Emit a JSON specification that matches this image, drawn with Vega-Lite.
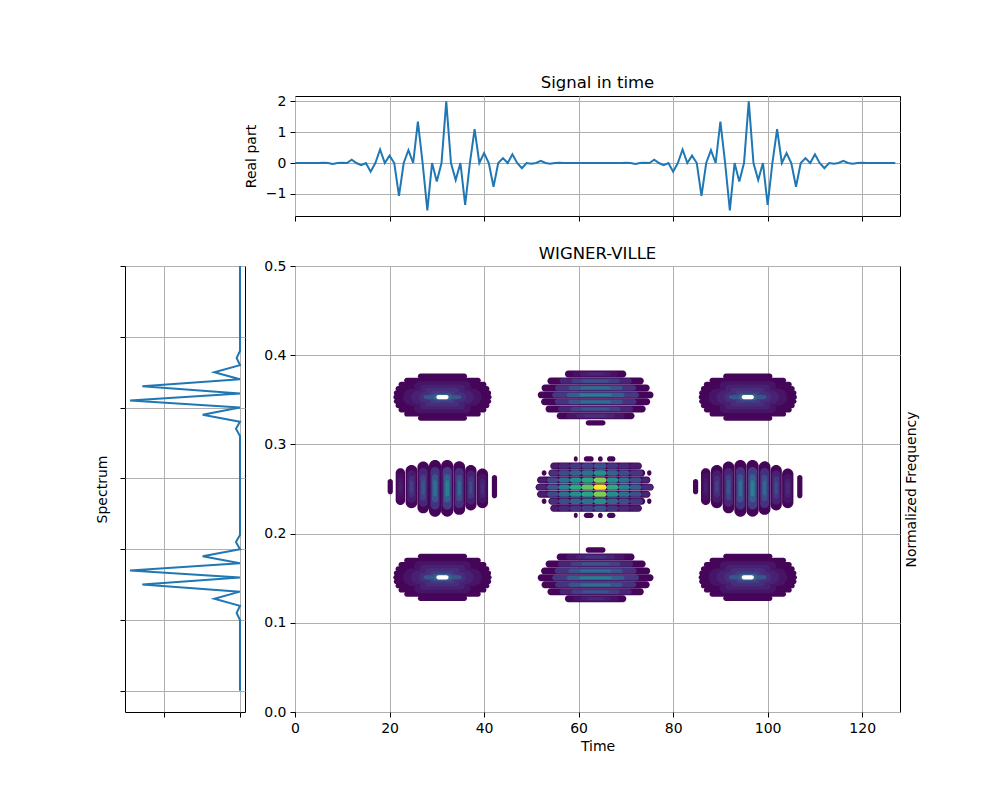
{
"$schema": "https://vega.github.io/schema/vega-lite/v6.json",
"padding": {"left": 95, "top": 74, "right": 5, "bottom": 5},
"background": "white",
"config": {
  "font": "DejaVu Sans",
  "view": {"stroke": "black", "strokeWidth": 1},
  "axis": {"domain": false, "grid": true, "gridColor": "#b0b0b0", "gridWidth": 1, "tickColor": "black", "tickSize": 5, "tickWidth": 1, "labelFontSize": 14, "labelColor": "black", "labelPadding": 4, "labelFlush": false, "labelOverlap": false, "titleFontSize": 14, "titleFontWeight": "normal", "titleColor": "black", "labelFont": "DejaVu Sans", "titleFont": "DejaVu Sans"},
  "title": {"fontSize": 16.5, "fontWeight": "normal", "font": "DejaVu Sans", "color": "black"}
},
"datasets": {
  "signal": [
    {"t":0,"value":0},{"t":1,"value":0},{"t":2,"value":0},{"t":3,"value":0},{"t":4,"value":0},{"t":5,"value":0},{"t":6,"value":0.01},{"t":7,"value":0},
    {"t":8,"value":-0.03},{"t":9,"value":0},{"t":10,"value":0.01},{"t":11,"value":0},{"t":12,"value":0.11},{"t":13,"value":0},{"t":14,"value":-0.07},{"t":15,"value":0},
    {"t":16,"value":-0.28},{"t":17,"value":0},{"t":18,"value":0.44},{"t":19,"value":0},{"t":20,"value":0.24},{"t":21,"value":0},{"t":22,"value":-1.07},{"t":23,"value":0},
    {"t":24,"value":0.42},{"t":25,"value":0},{"t":26,"value":1.34},{"t":27,"value":0},{"t":28,"value":-1.54},{"t":29,"value":0},{"t":30,"value":-0.6},{"t":31,"value":0},
    {"t":32,"value":2.0},{"t":33,"value":0},{"t":34,"value":-0.55},{"t":35,"value":0},{"t":36,"value":-1.36},{"t":37,"value":0},{"t":38,"value":1.1},{"t":39,"value":0},
    {"t":40,"value":0.32},{"t":41,"value":0},{"t":42,"value":-0.77},{"t":43,"value":0},{"t":44,"value":0.16},{"t":45,"value":0},{"t":46,"value":0.28},{"t":47,"value":0},
    {"t":48,"value":-0.17},{"t":49,"value":0},{"t":50,"value":-0.02},{"t":51,"value":0},{"t":52,"value":0.07},{"t":53,"value":0},{"t":54,"value":-0.02},{"t":55,"value":0},
    {"t":56,"value":0.01},{"t":57,"value":0},{"t":58,"value":0},{"t":59,"value":0},{"t":60,"value":0},{"t":61,"value":0},{"t":62,"value":0},{"t":63,"value":0},
    {"t":64,"value":0},{"t":65,"value":0},{"t":66,"value":0},{"t":67,"value":0},{"t":68,"value":0},{"t":69,"value":0},{"t":70,"value":0.01},{"t":71,"value":0},
    {"t":72,"value":-0.03},{"t":73,"value":0},{"t":74,"value":0.01},{"t":75,"value":0},{"t":76,"value":0.11},{"t":77,"value":0},{"t":78,"value":-0.07},{"t":79,"value":0},
    {"t":80,"value":-0.28},{"t":81,"value":0},{"t":82,"value":0.44},{"t":83,"value":0},{"t":84,"value":0.24},{"t":85,"value":0},{"t":86,"value":-1.07},{"t":87,"value":0},
    {"t":88,"value":0.42},{"t":89,"value":0},{"t":90,"value":1.34},{"t":91,"value":0},{"t":92,"value":-1.54},{"t":93,"value":0},{"t":94,"value":-0.6},{"t":95,"value":0},
    {"t":96,"value":2.0},{"t":97,"value":0},{"t":98,"value":-0.55},{"t":99,"value":0},{"t":100,"value":-1.36},{"t":101,"value":0},{"t":102,"value":1.1},{"t":103,"value":0},
    {"t":104,"value":0.32},{"t":105,"value":0},{"t":106,"value":-0.77},{"t":107,"value":0},{"t":108,"value":0.16},{"t":109,"value":0},{"t":110,"value":0.28},{"t":111,"value":0},
    {"t":112,"value":-0.17},{"t":113,"value":0},{"t":114,"value":-0.02},{"t":115,"value":0},{"t":116,"value":0.07},{"t":117,"value":0},{"t":118,"value":-0.02},{"t":119,"value":0},
    {"t":120,"value":0.01},{"t":121,"value":0},{"t":122,"value":0},{"t":123,"value":0},{"t":124,"value":0},{"t":125,"value":0},{"t":126,"value":0},{"t":127,"value":0}
  ],
  "spectrum": [
    {"bin":0,"power":0},{"bin":1,"power":0},{"bin":2,"power":0},{"bin":3,"power":0},{"bin":4,"power":0},{"bin":5,"power":0},{"bin":6,"power":0},{"bin":7,"power":0},
    {"bin":8,"power":0},{"bin":9,"power":0},{"bin":10,"power":0},{"bin":11,"power":0.044},{"bin":12,"power":0},{"bin":13,"power":0.338},{"bin":14,"power":0},{"bin":15,"power":1.285},
    {"bin":16,"power":0},{"bin":17,"power":1.447},{"bin":18,"power":0},{"bin":19,"power":0.491},{"bin":20,"power":0},{"bin":21,"power":0.053},{"bin":22,"power":0},{"bin":23,"power":0},
    {"bin":24,"power":0},{"bin":25,"power":0},{"bin":26,"power":0},{"bin":27,"power":0},{"bin":28,"power":0},{"bin":29,"power":0},{"bin":30,"power":0},{"bin":31,"power":0},
    {"bin":32,"power":0},{"bin":33,"power":0},{"bin":34,"power":0},{"bin":35,"power":0},{"bin":36,"power":0},{"bin":37,"power":0.053},{"bin":38,"power":0},{"bin":39,"power":0.491},
    {"bin":40,"power":0},{"bin":41,"power":1.447},{"bin":42,"power":0},{"bin":43,"power":1.285},{"bin":44,"power":0},{"bin":45,"power":0.338},{"bin":46,"power":0},{"bin":47,"power":0.044},
    {"bin":48,"power":0},{"bin":49,"power":0},{"bin":50,"power":0},{"bin":51,"power":0},{"bin":52,"power":0},{"bin":53,"power":0},{"bin":54,"power":0},{"bin":55,"power":0},
    {"bin":56,"power":0},{"bin":57,"power":0},{"bin":58,"power":0},{"bin":59,"power":0},{"bin":60,"power":0},{"bin":61,"power":0},{"bin":62,"power":0},{"bin":63,"power":0}
  ],
  "cores": [
    {"t0":29.9,"t1":32.5,"f0":0.3506,"f1":0.3554},
    {"t0":94.5,"t1":97.1,"f0":0.3506,"f1":0.3554},
    {"t0":29.9,"t1":32.5,"f0":0.1486,"f1":0.1534},
    {"t0":94.5,"t1":97.1,"f0":0.1486,"f1":0.1534}
  ],
  "wv": [
    {"t0":26.0,"t1":36.4,"f0":0.3735,"f1":0.3795,"v":0.01},
    {"t0":23.1,"t1":39.3,"f0":0.3688,"f1":0.3748,"v":0.01},
    {"t0":21.9,"t1":40.5,"f0":0.3641,"f1":0.3701,"v":0.01},
    {"t0":21.27,"t1":41.13,"f0":0.3594,"f1":0.3654,"v":0.01},
    {"t0":20.9,"t1":41.5,"f0":0.3547,"f1":0.3607,"v":0.01},
    {"t0":20.8,"t1":41.6,"f0":0.3500,"f1":0.3560,"v":0.01},
    {"t0":20.9,"t1":41.5,"f0":0.3453,"f1":0.3513,"v":0.01},
    {"t0":21.27,"t1":41.13,"f0":0.3406,"f1":0.3466,"v":0.01},
    {"t0":21.9,"t1":40.5,"f0":0.3359,"f1":0.3419,"v":0.01},
    {"t0":23.1,"t1":39.3,"f0":0.3312,"f1":0.3372,"v":0.01},
    {"t0":26.0,"t1":36.4,"f0":0.3265,"f1":0.3325,"v":0.01},
    {"t0":90.6,"t1":101.0,"f0":0.3735,"f1":0.3795,"v":0.01},
    {"t0":87.7,"t1":103.9,"f0":0.3688,"f1":0.3748,"v":0.01},
    {"t0":86.5,"t1":105.1,"f0":0.3641,"f1":0.3701,"v":0.01},
    {"t0":85.87,"t1":105.73,"f0":0.3594,"f1":0.3654,"v":0.01},
    {"t0":85.5,"t1":106.1,"f0":0.3547,"f1":0.3607,"v":0.01},
    {"t0":85.4,"t1":106.2,"f0":0.3500,"f1":0.3560,"v":0.01},
    {"t0":85.5,"t1":106.1,"f0":0.3453,"f1":0.3513,"v":0.01},
    {"t0":85.87,"t1":105.73,"f0":0.3406,"f1":0.3466,"v":0.01},
    {"t0":86.5,"t1":105.1,"f0":0.3359,"f1":0.3419,"v":0.01},
    {"t0":87.7,"t1":103.9,"f0":0.3312,"f1":0.3372,"v":0.01},
    {"t0":90.6,"t1":101.0,"f0":0.3265,"f1":0.3325,"v":0.01},
    {"t0":26.0,"t1":36.4,"f0":0.1715,"f1":0.1775,"v":0.01},
    {"t0":23.1,"t1":39.3,"f0":0.1668,"f1":0.1728,"v":0.01},
    {"t0":21.9,"t1":40.5,"f0":0.1621,"f1":0.1681,"v":0.01},
    {"t0":21.27,"t1":41.13,"f0":0.1574,"f1":0.1634,"v":0.01},
    {"t0":20.9,"t1":41.5,"f0":0.1527,"f1":0.1587,"v":0.01},
    {"t0":20.8,"t1":41.6,"f0":0.1480,"f1":0.1540,"v":0.01},
    {"t0":20.9,"t1":41.5,"f0":0.1433,"f1":0.1493,"v":0.01},
    {"t0":21.27,"t1":41.13,"f0":0.1386,"f1":0.1446,"v":0.01},
    {"t0":21.9,"t1":40.5,"f0":0.1339,"f1":0.1399,"v":0.01},
    {"t0":23.1,"t1":39.3,"f0":0.1292,"f1":0.1352,"v":0.01},
    {"t0":26.0,"t1":36.4,"f0":0.1245,"f1":0.1305,"v":0.01},
    {"t0":90.6,"t1":101.0,"f0":0.1715,"f1":0.1775,"v":0.01},
    {"t0":87.7,"t1":103.9,"f0":0.1668,"f1":0.1728,"v":0.01},
    {"t0":86.5,"t1":105.1,"f0":0.1621,"f1":0.1681,"v":0.01},
    {"t0":85.87,"t1":105.73,"f0":0.1574,"f1":0.1634,"v":0.01},
    {"t0":85.5,"t1":106.1,"f0":0.1527,"f1":0.1587,"v":0.01},
    {"t0":85.4,"t1":106.2,"f0":0.1480,"f1":0.1540,"v":0.01},
    {"t0":85.5,"t1":106.1,"f0":0.1433,"f1":0.1493,"v":0.01},
    {"t0":85.87,"t1":105.73,"f0":0.1386,"f1":0.1446,"v":0.01},
    {"t0":86.5,"t1":105.1,"f0":0.1339,"f1":0.1399,"v":0.01},
    {"t0":87.7,"t1":103.9,"f0":0.1292,"f1":0.1352,"v":0.01},
    {"t0":90.6,"t1":101.0,"f0":0.1245,"f1":0.1305,"v":0.01},

    {"t0":22.9,"t1":39.5,"f0":0.3433,"f1":0.3628,"v":0.05},
    {"t0":25.22,"t1":37.18,"f0":0.3598,"f1":0.3709,"v":0.05},
    {"t0":25.22,"t1":37.18,"f0":0.3351,"f1":0.3462,"v":0.05},
    {"t0":24.6,"t1":37.8,"f0":0.3455,"f1":0.3605,"v":0.09},
    {"t0":26.45,"t1":35.95,"f0":0.3583,"f1":0.3668,"v":0.09},
    {"t0":26.45,"t1":35.95,"f0":0.3392,"f1":0.3477,"v":0.09},
    {"t0":26.2,"t1":36.2,"f0":0.3475,"f1":0.3585,"v":0.13},
    {"t0":27.6,"t1":34.8,"f0":0.3569,"f1":0.3631,"v":0.13},
    {"t0":27.6,"t1":34.8,"f0":0.3429,"f1":0.3491,"v":0.13},
    {"t0":27.7,"t1":34.7,"f0":0.3494,"f1":0.3566,"v":0.17},
    {"t0":28.68,"t1":33.72,"f0":0.3555,"f1":0.3596,"v":0.17},
    {"t0":28.68,"t1":33.72,"f0":0.3464,"f1":0.3505,"v":0.17},
    {"t0":28.9,"t1":33.5,"f0":0.3488,"f1":0.3572,"v":0.21},
    {"t0":27.2,"t1":35.2,"f0":0.3508,"f1":0.3552,"v":0.26},
    {"t0":29.3,"t1":33.1,"f0":0.3494,"f1":0.3566,"v":0.32},

    {"t0":87.5,"t1":104.1,"f0":0.3433,"f1":0.3628,"v":0.05},
    {"t0":89.82,"t1":101.78,"f0":0.3598,"f1":0.3709,"v":0.05},
    {"t0":89.82,"t1":101.78,"f0":0.3351,"f1":0.3462,"v":0.05},
    {"t0":89.2,"t1":102.4,"f0":0.3455,"f1":0.3605,"v":0.09},
    {"t0":91.05,"t1":100.55,"f0":0.3583,"f1":0.3668,"v":0.09},
    {"t0":91.05,"t1":100.55,"f0":0.3392,"f1":0.3477,"v":0.09},
    {"t0":90.8,"t1":100.8,"f0":0.3475,"f1":0.3585,"v":0.13},
    {"t0":92.2,"t1":99.4,"f0":0.3569,"f1":0.3631,"v":0.13},
    {"t0":92.2,"t1":99.4,"f0":0.3429,"f1":0.3491,"v":0.13},
    {"t0":92.3,"t1":99.3,"f0":0.3494,"f1":0.3566,"v":0.17},
    {"t0":93.28,"t1":98.32,"f0":0.3555,"f1":0.3596,"v":0.17},
    {"t0":93.28,"t1":98.32,"f0":0.3464,"f1":0.3505,"v":0.17},
    {"t0":93.5,"t1":98.1,"f0":0.3488,"f1":0.3572,"v":0.21},
    {"t0":91.8,"t1":99.8,"f0":0.3508,"f1":0.3552,"v":0.26},
    {"t0":93.9,"t1":97.7,"f0":0.3494,"f1":0.3566,"v":0.32},

    {"t0":22.9,"t1":39.5,"f0":0.1413,"f1":0.1608,"v":0.05},
    {"t0":25.22,"t1":37.18,"f0":0.1578,"f1":0.1689,"v":0.05},
    {"t0":25.22,"t1":37.18,"f0":0.1331,"f1":0.1442,"v":0.05},
    {"t0":24.6,"t1":37.8,"f0":0.1435,"f1":0.1585,"v":0.09},
    {"t0":26.45,"t1":35.95,"f0":0.1563,"f1":0.1648,"v":0.09},
    {"t0":26.45,"t1":35.95,"f0":0.1372,"f1":0.1457,"v":0.09},
    {"t0":26.2,"t1":36.2,"f0":0.1455,"f1":0.1565,"v":0.13},
    {"t0":27.6,"t1":34.8,"f0":0.1549,"f1":0.1611,"v":0.13},
    {"t0":27.6,"t1":34.8,"f0":0.1409,"f1":0.1471,"v":0.13},
    {"t0":27.7,"t1":34.7,"f0":0.1474,"f1":0.1546,"v":0.17},
    {"t0":28.68,"t1":33.72,"f0":0.1535,"f1":0.1576,"v":0.17},
    {"t0":28.68,"t1":33.72,"f0":0.1444,"f1":0.1485,"v":0.17},
    {"t0":28.9,"t1":33.5,"f0":0.1468,"f1":0.1552,"v":0.21},
    {"t0":27.2,"t1":35.2,"f0":0.1488,"f1":0.1532,"v":0.26},
    {"t0":29.3,"t1":33.1,"f0":0.1474,"f1":0.1546,"v":0.32},

    {"t0":87.5,"t1":104.1,"f0":0.1413,"f1":0.1608,"v":0.05},
    {"t0":89.82,"t1":101.78,"f0":0.1578,"f1":0.1689,"v":0.05},
    {"t0":89.82,"t1":101.78,"f0":0.1331,"f1":0.1442,"v":0.05},
    {"t0":89.2,"t1":102.4,"f0":0.1435,"f1":0.1585,"v":0.09},
    {"t0":91.05,"t1":100.55,"f0":0.1563,"f1":0.1648,"v":0.09},
    {"t0":91.05,"t1":100.55,"f0":0.1372,"f1":0.1457,"v":0.09},
    {"t0":90.8,"t1":100.8,"f0":0.1455,"f1":0.1565,"v":0.13},
    {"t0":92.2,"t1":99.4,"f0":0.1549,"f1":0.1611,"v":0.13},
    {"t0":92.2,"t1":99.4,"f0":0.1409,"f1":0.1471,"v":0.13},
    {"t0":92.3,"t1":99.3,"f0":0.1474,"f1":0.1546,"v":0.17},
    {"t0":93.28,"t1":98.32,"f0":0.1535,"f1":0.1576,"v":0.17},
    {"t0":93.28,"t1":98.32,"f0":0.1444,"f1":0.1485,"v":0.17},
    {"t0":93.5,"t1":98.1,"f0":0.1468,"f1":0.1552,"v":0.21},
    {"t0":91.8,"t1":99.8,"f0":0.1488,"f1":0.1532,"v":0.26},
    {"t0":93.9,"t1":97.7,"f0":0.1474,"f1":0.1546,"v":0.32},

    {"t0":19.6,"t1":20.7,"f0":0.2441,"f1":0.2613,"v":0.01},
    {"t0":21.3,"t1":23.3,"f0":0.2321,"f1":0.2733,"v":0.01},
    {"t0":21.55,"t1":23.05,"f0":0.2372,"f1":0.2682,"v":0.03},
    {"t0":21.8,"t1":22.8,"f0":0.2424,"f1":0.2630,"v":0.056},
    {"t0":22.0,"t1":22.6,"f0":0.2469,"f1":0.2585,"v":0.08},
    {"t0":23.4,"t1":25.9,"f0":0.2284,"f1":0.2770,"v":0.01},
    {"t0":23.71,"t1":25.59,"f0":0.2345,"f1":0.2709,"v":0.072},
    {"t0":24.03,"t1":25.28,"f0":0.2405,"f1":0.2649,"v":0.126},
    {"t0":24.28,"t1":25.03,"f0":0.2459,"f1":0.2595,"v":0.18},
    {"t0":25.9,"t1":28.35,"f0":0.2227,"f1":0.2807,"v":0.01},
    {"t0":26.2,"t1":28.05,"f0":0.2299,"f1":0.2735,"v":0.104},
    {"t0":26.51,"t1":27.74,"f0":0.2372,"f1":0.2662,"v":0.182},
    {"t0":26.76,"t1":27.49,"f0":0.2436,"f1":0.2598,"v":0.26},
    {"t0":28.35,"t1":30.9,"f0":0.2190,"f1":0.2826,"v":0.01},
    {"t0":28.67,"t1":30.58,"f0":0.2269,"f1":0.2747,"v":0.144},
    {"t0":28.99,"t1":30.26,"f0":0.2349,"f1":0.2667,"v":0.252},
    {"t0":29.24,"t1":30.01,"f0":0.2419,"f1":0.2597,"v":0.36},
    {"t0":30.9,"t1":33.5,"f0":0.2190,"f1":0.2826,"v":0.01},
    {"t0":31.23,"t1":33.18,"f0":0.2269,"f1":0.2747,"v":0.172},
    {"t0":31.55,"t1":32.85,"f0":0.2349,"f1":0.2667,"v":0.30},
    {"t0":31.81,"t1":32.59,"f0":0.2419,"f1":0.2597,"v":0.43},
    {"t0":33.5,"t1":36.0,"f0":0.2210,"f1":0.2810,"v":0.01},
    {"t0":33.81,"t1":35.69,"f0":0.2285,"f1":0.2735,"v":0.132},
    {"t0":34.13,"t1":35.38,"f0":0.2360,"f1":0.2660,"v":0.231},
    {"t0":34.38,"t1":35.13,"f0":0.2426,"f1":0.2594,"v":0.33},
    {"t0":36.0,"t1":38.4,"f0":0.2260,"f1":0.2770,"v":0.01},
    {"t0":36.3,"t1":38.1,"f0":0.2324,"f1":0.2706,"v":0.088},
    {"t0":36.6,"t1":37.8,"f0":0.2387,"f1":0.2643,"v":0.154},
    {"t0":36.84,"t1":37.56,"f0":0.2444,"f1":0.2586,"v":0.22},
    {"t0":38.45,"t1":40.85,"f0":0.2284,"f1":0.2730,"v":0.01},
    {"t0":38.75,"t1":40.55,"f0":0.2340,"f1":0.2674,"v":0.048},
    {"t0":39.05,"t1":40.25,"f0":0.2395,"f1":0.2619,"v":0.084},
    {"t0":39.29,"t1":40.01,"f0":0.2445,"f1":0.2569,"v":0.12},
    {"t0":41.65,"t1":42.75,"f0":0.2396,"f1":0.2658,"v":0.01},

    {"t0":84.2,"t1":85.3,"f0":0.2441,"f1":0.2613,"v":0.01},
    {"t0":85.9,"t1":87.9,"f0":0.2321,"f1":0.2733,"v":0.01},
    {"t0":86.15,"t1":87.65,"f0":0.2372,"f1":0.2682,"v":0.03},
    {"t0":86.4,"t1":87.4,"f0":0.2424,"f1":0.2630,"v":0.056},
    {"t0":86.6,"t1":87.2,"f0":0.2469,"f1":0.2585,"v":0.08},
    {"t0":88.0,"t1":90.5,"f0":0.2284,"f1":0.2770,"v":0.01},
    {"t0":88.31,"t1":90.19,"f0":0.2345,"f1":0.2709,"v":0.072},
    {"t0":88.63,"t1":89.88,"f0":0.2405,"f1":0.2649,"v":0.126},
    {"t0":88.88,"t1":89.63,"f0":0.2459,"f1":0.2595,"v":0.18},
    {"t0":90.5,"t1":92.95,"f0":0.2227,"f1":0.2807,"v":0.01},
    {"t0":90.8,"t1":92.65,"f0":0.2299,"f1":0.2735,"v":0.104},
    {"t0":91.11,"t1":92.34,"f0":0.2372,"f1":0.2662,"v":0.182},
    {"t0":91.36,"t1":92.09,"f0":0.2436,"f1":0.2598,"v":0.26},
    {"t0":92.95,"t1":95.5,"f0":0.2190,"f1":0.2826,"v":0.01},
    {"t0":93.27,"t1":95.18,"f0":0.2269,"f1":0.2747,"v":0.144},
    {"t0":93.59,"t1":94.86,"f0":0.2349,"f1":0.2667,"v":0.252},
    {"t0":93.84,"t1":94.61,"f0":0.2419,"f1":0.2597,"v":0.36},
    {"t0":95.5,"t1":98.1,"f0":0.2190,"f1":0.2826,"v":0.01},
    {"t0":95.83,"t1":97.78,"f0":0.2269,"f1":0.2747,"v":0.172},
    {"t0":96.15,"t1":97.45,"f0":0.2349,"f1":0.2667,"v":0.30},
    {"t0":96.41,"t1":97.19,"f0":0.2419,"f1":0.2597,"v":0.43},
    {"t0":98.1,"t1":100.6,"f0":0.2210,"f1":0.2810,"v":0.01},
    {"t0":98.41,"t1":100.29,"f0":0.2285,"f1":0.2735,"v":0.132},
    {"t0":98.73,"t1":99.98,"f0":0.2360,"f1":0.2660,"v":0.231},
    {"t0":98.98,"t1":99.73,"f0":0.2426,"f1":0.2594,"v":0.33},
    {"t0":100.6,"t1":103.0,"f0":0.2260,"f1":0.2770,"v":0.01},
    {"t0":100.9,"t1":102.7,"f0":0.2324,"f1":0.2706,"v":0.088},
    {"t0":101.2,"t1":102.4,"f0":0.2387,"f1":0.2643,"v":0.154},
    {"t0":101.44,"t1":102.16,"f0":0.2444,"f1":0.2586,"v":0.22},
    {"t0":103.05,"t1":105.45,"f0":0.2284,"f1":0.2730,"v":0.01},
    {"t0":103.35,"t1":105.15,"f0":0.2340,"f1":0.2674,"v":0.048},
    {"t0":103.65,"t1":104.85,"f0":0.2395,"f1":0.2619,"v":0.084},
    {"t0":103.89,"t1":104.61,"f0":0.2445,"f1":0.2569,"v":0.12},
    {"t0":106.25,"t1":107.35,"f0":0.2396,"f1":0.2658,"v":0.01},

    {"t0":57.1,"t1":70.1,"f0":0.3750,"f1":0.3828,"v":0.01},
    {"t0":58.73,"t1":68.48,"f0":0.3758,"f1":0.3820,"v":0.04},
    {"t0":60.35,"t1":66.85,"f0":0.3765,"f1":0.3813,"v":0.07},
    {"t0":61.78,"t1":65.42,"f0":0.3773,"f1":0.3805,"v":0.10},
    {"t0":53.4,"t1":73.8,"f0":0.3672,"f1":0.3750,"v":0.01},
    {"t0":55.95,"t1":71.25,"f0":0.3680,"f1":0.3742,"v":0.10},
    {"t0":58.5,"t1":68.7,"f0":0.3687,"f1":0.3735,"v":0.175},
    {"t0":60.74,"t1":66.46,"f0":0.3695,"f1":0.3727,"v":0.25},
    {"t0":52.15,"t1":75.05,"f0":0.3594,"f1":0.3672,"v":0.01},
    {"t0":55.01,"t1":72.19,"f0":0.3602,"f1":0.3664,"v":0.144},
    {"t0":57.87,"t1":69.33,"f0":0.3609,"f1":0.3657,"v":0.252},
    {"t0":60.39,"t1":66.81,"f0":0.3617,"f1":0.3649,"v":0.36},
    {"t0":51.35,"t1":75.85,"f0":0.3516,"f1":0.3594,"v":0.01},
    {"t0":54.41,"t1":72.79,"f0":0.3524,"f1":0.3586,"v":0.168},
    {"t0":57.47,"t1":69.73,"f0":0.3531,"f1":0.3579,"v":0.294},
    {"t0":60.17,"t1":67.03,"f0":0.3539,"f1":0.3571,"v":0.42},
    {"t0":52.05,"t1":75.15,"f0":0.3438,"f1":0.3516,"v":0.01},
    {"t0":54.94,"t1":72.26,"f0":0.3446,"f1":0.3508,"v":0.144},
    {"t0":57.82,"t1":69.38,"f0":0.3453,"f1":0.3501,"v":0.252},
    {"t0":60.37,"t1":66.83,"f0":0.3461,"f1":0.3493,"v":0.36},
    {"t0":53.0,"t1":74.2,"f0":0.3359,"f1":0.3437,"v":0.01},
    {"t0":55.65,"t1":71.55,"f0":0.3367,"f1":0.3429,"v":0.104},
    {"t0":58.3,"t1":68.9,"f0":0.3374,"f1":0.3422,"v":0.182},
    {"t0":60.63,"t1":66.57,"f0":0.3382,"f1":0.3414,"v":0.26},
    {"t0":55.35,"t1":71.85,"f0":0.3281,"f1":0.3359,"v":0.01},
    {"t0":57.41,"t1":69.79,"f0":0.3289,"f1":0.3351,"v":0.056},
    {"t0":59.47,"t1":67.73,"f0":0.3296,"f1":0.3344,"v":0.098},
    {"t0":61.29,"t1":65.91,"f0":0.3304,"f1":0.3336,"v":0.14},
    {"t0":61.5,"t1":65.7,"f0":0.3212,"f1":0.3272,"v":0.01},

    {"t0":61.5,"t1":65.7,"f0":0.1786,"f1":0.1846,"v":0.01},
    {"t0":55.35,"t1":71.85,"f0":0.1699,"f1":0.1777,"v":0.01},
    {"t0":57.41,"t1":69.79,"f0":0.1707,"f1":0.1769,"v":0.056},
    {"t0":59.47,"t1":67.73,"f0":0.1714,"f1":0.1762,"v":0.098},
    {"t0":61.29,"t1":65.91,"f0":0.1722,"f1":0.1754,"v":0.14},
    {"t0":53.0,"t1":74.2,"f0":0.1621,"f1":0.1699,"v":0.01},
    {"t0":55.65,"t1":71.55,"f0":0.1629,"f1":0.1691,"v":0.104},
    {"t0":58.3,"t1":68.9,"f0":0.1636,"f1":0.1684,"v":0.182},
    {"t0":60.63,"t1":66.57,"f0":0.1644,"f1":0.1676,"v":0.26},
    {"t0":52.05,"t1":75.15,"f0":0.1543,"f1":0.1621,"v":0.01},
    {"t0":54.94,"t1":72.26,"f0":0.1551,"f1":0.1613,"v":0.144},
    {"t0":57.82,"t1":69.38,"f0":0.1558,"f1":0.1606,"v":0.252},
    {"t0":60.37,"t1":66.83,"f0":0.1566,"f1":0.1598,"v":0.36},
    {"t0":51.35,"t1":75.85,"f0":0.1465,"f1":0.1543,"v":0.01},
    {"t0":54.41,"t1":72.79,"f0":0.1473,"f1":0.1535,"v":0.168},
    {"t0":57.47,"t1":69.73,"f0":0.1480,"f1":0.1528,"v":0.294},
    {"t0":60.17,"t1":67.03,"f0":0.1488,"f1":0.1520,"v":0.42},
    {"t0":52.15,"t1":75.05,"f0":0.1387,"f1":0.1465,"v":0.01},
    {"t0":55.01,"t1":72.19,"f0":0.1395,"f1":0.1457,"v":0.144},
    {"t0":57.87,"t1":69.33,"f0":0.1402,"f1":0.1450,"v":0.252},
    {"t0":60.39,"t1":66.81,"f0":0.1410,"f1":0.1442,"v":0.36},
    {"t0":53.4,"t1":73.8,"f0":0.1309,"f1":0.1387,"v":0.01},
    {"t0":55.95,"t1":71.25,"f0":0.1317,"f1":0.1379,"v":0.10},
    {"t0":58.5,"t1":68.7,"f0":0.1324,"f1":0.1372,"v":0.175},
    {"t0":60.74,"t1":66.46,"f0":0.1332,"f1":0.1364,"v":0.25},
    {"t0":57.1,"t1":70.1,"f0":0.1231,"f1":0.1309,"v":0.01},
    {"t0":58.73,"t1":68.48,"f0":0.1239,"f1":0.1301,"v":0.04},
    {"t0":60.35,"t1":66.85,"f0":0.1246,"f1":0.1294,"v":0.07},
    {"t0":61.78,"t1":65.42,"f0":0.1254,"f1":0.1286,"v":0.10},

    {"t0":59.0,"t1":59.8,"f0":0.2807,"f1":0.2867,"v":0.01},
    {"t0":61.1,"t1":63.2,"f0":0.2807,"f1":0.2867,"v":0.01},
    {"t0":64.1,"t1":65.1,"f0":0.2807,"f1":0.2867,"v":0.01},
    {"t0":66.0,"t1":67.8,"f0":0.2807,"f1":0.2867,"v":0.01},
    {"t0":54.0,"t1":73.4,"f0":0.2719,"f1":0.2797,"v":0.01},
    {"t0":53.6,"t1":74.1,"f0":0.2640,"f1":0.2718,"v":0.01},
    {"t0":52.2,"t1":53.2,"f0":0.2649,"f1":0.2709,"v":0.01},
    {"t0":74.5,"t1":75.4,"f0":0.2649,"f1":0.2709,"v":0.01},
    {"t0":51.2,"t1":75.2,"f0":0.2561,"f1":0.2639,"v":0.01},
    {"t0":50.9,"t1":75.9,"f0":0.2482,"f1":0.2560,"v":0.01},
    {"t0":51.2,"t1":75.2,"f0":0.2403,"f1":0.2481,"v":0.01},
    {"t0":53.6,"t1":74.1,"f0":0.2324,"f1":0.2402,"v":0.01},
    {"t0":52.2,"t1":53.2,"f0":0.2333,"f1":0.2393,"v":0.01},
    {"t0":74.5,"t1":75.4,"f0":0.2333,"f1":0.2393,"v":0.01},
    {"t0":54.0,"t1":73.4,"f0":0.2245,"f1":0.2323,"v":0.01},
    {"t0":59.0,"t1":59.8,"f0":0.2175,"f1":0.2235,"v":0.01},
    {"t0":61.1,"t1":63.2,"f0":0.2175,"f1":0.2235,"v":0.01},
    {"t0":64.1,"t1":65.1,"f0":0.2175,"f1":0.2235,"v":0.01},
    {"t0":66.0,"t1":67.8,"f0":0.2175,"f1":0.2235,"v":0.01},

    {"t0":54.2,"t1":55.75,"f0":0.2728,"f1":0.2788,"v":0.07},
    {"t0":55.75,"t1":58.15,"f0":0.2728,"f1":0.2788,"v":0.11},
    {"t0":58.15,"t1":60.6,"f0":0.2728,"f1":0.2788,"v":0.155},
    {"t0":60.6,"t1":63.2,"f0":0.2728,"f1":0.2788,"v":0.19},
    {"t0":63.2,"t1":65.9,"f0":0.2728,"f1":0.2788,"v":0.25},
    {"t0":65.9,"t1":68.4,"f0":0.2728,"f1":0.2788,"v":0.155},
    {"t0":68.4,"t1":70.8,"f0":0.2728,"f1":0.2788,"v":0.11},
    {"t0":70.8,"t1":73.2,"f0":0.2728,"f1":0.2788,"v":0.075},
    {"t0":53.8,"t1":55.75,"f0":0.2649,"f1":0.2709,"v":0.14},
    {"t0":55.75,"t1":58.15,"f0":0.2649,"f1":0.2709,"v":0.225},
    {"t0":58.15,"t1":60.6,"f0":0.2649,"f1":0.2709,"v":0.31},
    {"t0":60.6,"t1":63.2,"f0":0.2649,"f1":0.2709,"v":0.375},
    {"t0":63.2,"t1":65.9,"f0":0.2649,"f1":0.2709,"v":0.5},
    {"t0":65.9,"t1":68.4,"f0":0.2649,"f1":0.2709,"v":0.31},
    {"t0":68.4,"t1":70.8,"f0":0.2649,"f1":0.2709,"v":0.225},
    {"t0":70.8,"t1":73.6,"f0":0.2649,"f1":0.2709,"v":0.15},
    {"t0":51.4,"t1":53.3,"f0":0.2570,"f1":0.2630,"v":0.08},
    {"t0":53.3,"t1":55.75,"f0":0.2570,"f1":0.2630,"v":0.224},
    {"t0":55.75,"t1":58.15,"f0":0.2570,"f1":0.2630,"v":0.36},
    {"t0":58.15,"t1":60.6,"f0":0.2570,"f1":0.2630,"v":0.496},
    {"t0":60.6,"t1":63.2,"f0":0.2570,"f1":0.2630,"v":0.6},
    {"t0":63.2,"t1":65.9,"f0":0.2570,"f1":0.2630,"v":0.8},
    {"t0":65.9,"t1":68.4,"f0":0.2570,"f1":0.2630,"v":0.496},
    {"t0":68.4,"t1":70.8,"f0":0.2570,"f1":0.2630,"v":0.36},
    {"t0":70.8,"t1":73.3,"f0":0.2570,"f1":0.2630,"v":0.24},
    {"t0":73.3,"t1":75.0,"f0":0.2570,"f1":0.2630,"v":0.096},
    {"t0":51.1,"t1":53.3,"f0":0.2491,"f1":0.2551,"v":0.1},
    {"t0":53.3,"t1":55.75,"f0":0.2491,"f1":0.2551,"v":0.28},
    {"t0":55.75,"t1":58.15,"f0":0.2491,"f1":0.2551,"v":0.45},
    {"t0":58.15,"t1":60.6,"f0":0.2491,"f1":0.2551,"v":0.62},
    {"t0":60.6,"t1":63.2,"f0":0.2491,"f1":0.2551,"v":0.75},
    {"t0":63.2,"t1":65.9,"f0":0.2491,"f1":0.2551,"v":1.0},
    {"t0":65.9,"t1":68.4,"f0":0.2491,"f1":0.2551,"v":0.62},
    {"t0":68.4,"t1":70.8,"f0":0.2491,"f1":0.2551,"v":0.45},
    {"t0":70.8,"t1":73.3,"f0":0.2491,"f1":0.2551,"v":0.3},
    {"t0":73.3,"t1":75.7,"f0":0.2491,"f1":0.2551,"v":0.12},
    {"t0":51.4,"t1":53.3,"f0":0.2412,"f1":0.2472,"v":0.08},
    {"t0":53.3,"t1":55.75,"f0":0.2412,"f1":0.2472,"v":0.224},
    {"t0":55.75,"t1":58.15,"f0":0.2412,"f1":0.2472,"v":0.36},
    {"t0":58.15,"t1":60.6,"f0":0.2412,"f1":0.2472,"v":0.496},
    {"t0":60.6,"t1":63.2,"f0":0.2412,"f1":0.2472,"v":0.6},
    {"t0":63.2,"t1":65.9,"f0":0.2412,"f1":0.2472,"v":0.8},
    {"t0":65.9,"t1":68.4,"f0":0.2412,"f1":0.2472,"v":0.496},
    {"t0":68.4,"t1":70.8,"f0":0.2412,"f1":0.2472,"v":0.36},
    {"t0":70.8,"t1":73.3,"f0":0.2412,"f1":0.2472,"v":0.24},
    {"t0":73.3,"t1":75.0,"f0":0.2412,"f1":0.2472,"v":0.096},
    {"t0":53.8,"t1":55.75,"f0":0.2333,"f1":0.2393,"v":0.14},
    {"t0":55.75,"t1":58.15,"f0":0.2333,"f1":0.2393,"v":0.225},
    {"t0":58.15,"t1":60.6,"f0":0.2333,"f1":0.2393,"v":0.31},
    {"t0":60.6,"t1":63.2,"f0":0.2333,"f1":0.2393,"v":0.375},
    {"t0":63.2,"t1":65.9,"f0":0.2333,"f1":0.2393,"v":0.5},
    {"t0":65.9,"t1":68.4,"f0":0.2333,"f1":0.2393,"v":0.31},
    {"t0":68.4,"t1":70.8,"f0":0.2333,"f1":0.2393,"v":0.225},
    {"t0":70.8,"t1":73.6,"f0":0.2333,"f1":0.2393,"v":0.15},
    {"t0":54.2,"t1":55.75,"f0":0.2254,"f1":0.2314,"v":0.07},
    {"t0":55.75,"t1":58.15,"f0":0.2254,"f1":0.2314,"v":0.11},
    {"t0":58.15,"t1":60.6,"f0":0.2254,"f1":0.2314,"v":0.155},
    {"t0":60.6,"t1":63.2,"f0":0.2254,"f1":0.2314,"v":0.19},
    {"t0":63.2,"t1":65.9,"f0":0.2254,"f1":0.2314,"v":0.25},
    {"t0":65.9,"t1":68.4,"f0":0.2254,"f1":0.2314,"v":0.155},
    {"t0":68.4,"t1":70.8,"f0":0.2254,"f1":0.2314,"v":0.11},
    {"t0":70.8,"t1":73.2,"f0":0.2254,"f1":0.2314,"v":0.075}
  ]
},
"columns": 2,
"spacing": {"row": 50, "column": 50},
"bounds": "flush",
"concat": [
  {
    "width": 120, "height": 120,
    "data": {"values": [{"a": 0}]},
    "mark": {"type": "point", "opacity": 0},
    "view": {"stroke": null}
  },
  {
    "width": 605, "height": 120,
    "title": {"text": "Signal in time", "offset": 3},
    "data": {"name": "signal"},
    "mark": {"type": "line", "color": "#1f77b4", "strokeWidth": 2},
    "encoding": {
      "x": {"field": "t", "type": "quantitative", "scale": {"domain": [0, 128], "nice": false, "zero": false}, "axis": {"values": [0, 20, 40, 60, 80, 100, 120], "labels": false, "title": null}},
      "y": {"field": "value", "type": "quantitative", "scale": {"domain": [-1.72, 2.175], "nice": false, "zero": false}, "axis": {"values": [-1, 0, 1, 2], "title": "Real part", "titlePadding": 7}}
    }
  },
  {
    "width": 120, "height": 446,
    "data": {"name": "spectrum"},
    "mark": {"type": "line", "color": "#1f77b4", "strokeWidth": 2, "clip": true},
    "encoding": {
      "x": {"field": "power", "type": "quantitative", "scale": {"domain": [-0.066, 1.513], "reverse": true, "nice": false, "zero": false}, "axis": {"values": [0, 1], "labels": false, "title": null}},
      "y": {"field": "bin", "type": "quantitative", "scale": {"domain": [-3, 60], "nice": false, "zero": false}, "axis": {"values": [0, 10, 20, 30, 40, 50, 60], "labels": false, "title": "Spectrum", "titlePadding": 10}},
      "order": {"field": "bin", "type": "quantitative"}
    }
  },
  {
    "width": 605, "height": 446,
    "title": {"text": "WIGNER-VILLE", "offset": -3},
    "layer": [
      {
        "data": {"name": "wv"},
        "mark": {"type": "rect", "cornerRadius": 100},
        "encoding": {
          "x": {"field": "t0", "type": "quantitative", "scale": {"domain": [0, 128], "nice": false, "zero": false}, "axis": {"values": [0, 20, 40, 60, 80, 100, 120], "title": "Time"}},
          "x2": {"field": "t1"},
          "y": {"field": "f0", "type": "quantitative", "scale": {"domain": [0, 0.5], "nice": false, "zero": false}, "axis": {"values": [0, 0.1, 0.2, 0.3, 0.4, 0.5], "format": ".1f", "title": null}},
          "y2": {"field": "f1"},
          "color": {"field": "v", "type": "quantitative", "scale": {"scheme": "viridis", "domain": [0, 1]}, "legend": null},
          "order": {"field": "v", "type": "quantitative"}
        }
      },
      {
        "data": {"name": "cores"},
        "mark": {"type": "rect", "cornerRadius": 100, "color": "white"},
        "encoding": {
          "x": {"field": "t0", "type": "quantitative"},
          "x2": {"field": "t1"},
          "y": {"field": "f0", "type": "quantitative", "axis": null},
          "y2": {"field": "f1"}
        }
      },
      {
        "data": {"name": "cores"},
        "mark": {"type": "point", "opacity": 0},
        "encoding": {
          "y": {"field": "f0", "type": "quantitative", "axis": {"orient": "right", "title": "Normalized Frequency", "labels": false, "ticks": false, "grid": false, "titleAngle": 270, "titleBaseline": "top", "titlePadding": 4}}
        }
      }
    ],
    "resolve": {"axis": {"y": "independent"}}
  }
]
}
